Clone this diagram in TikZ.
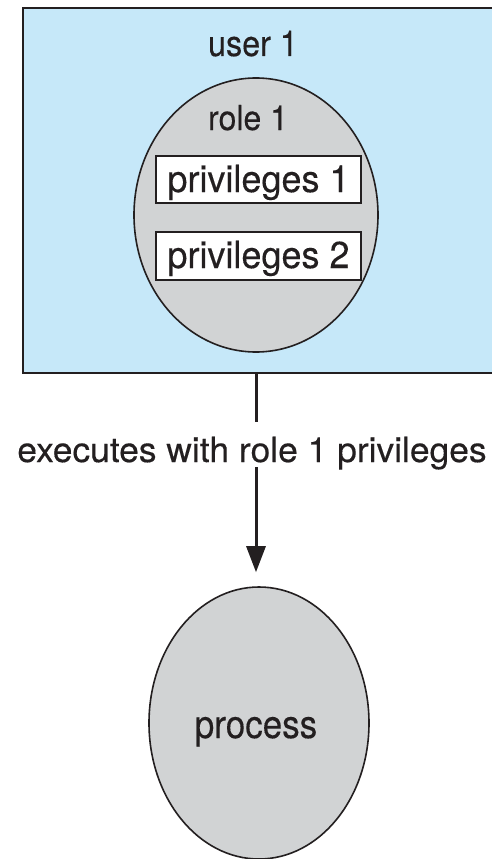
\documentclass[tikz,border=0pt]{standalone}
\usepackage{fontspec}
\setmainfont{TeX Gyre Heros}[FakeBold=0.3]
\usetikzlibrary{shapes.geometric,arrows.meta}
\definecolor{userblue}{RGB}{198,232,249}
\definecolor{rolegray}{RGB}{209,211,212}
\definecolor{ink}{RGB}{35,31,32}
\newcommand{\mylbl}[4]{\scalebox{#2}[#3]{\fontsize{#1}{#1}\selectfont #4}}
\begin{document}
\begin{tikzpicture}[x=1pt,y=-1pt,
  userbox/.style={draw=ink,line width=2.4pt,fill=userblue,rectangle,inner sep=0pt},
  roleshape/.style={draw=ink,line width=1.6pt,fill=rolegray,ellipse,inner sep=0pt},
  privbox/.style={draw=ink,line width=1.5pt,fill=white,rectangle,inner sep=0pt,minimum width=205,minimum height=47},
  txt/.style={anchor=base,inner sep=0pt,text=ink},
  conn/.style={draw=ink,line width=3pt}]
\useasboundingbox (0,0) rectangle (492,859);
\clip (0,0) rectangle (492,859);
\fill[white] (0,0) rectangle (492,859);
% user box
\node[userbox,anchor=north west,minimum width=490,minimum height=365] (user) at (22,7) {};
\node[txt] (usertxt) at (253,56) {\mylbl{32}{1.01}{1.12}{user 1}};
% role ellipse
\node[roleshape,minimum width=244,minimum height=274] (role) at (256,215) {};
\node[txt] (roletxt) at (248,130) {\mylbl{32}{1}{1.08}{role 1}};
\node[privbox] (priv1) at (258.5,179.5) {};
\node[txt] (priv1txt) at (258.5,192) {\mylbl{36}{1}{1.04}{privileges 1}};
\node[privbox,minimum height=48] (priv2) at (258.5,256) {};
\node[txt] (priv2txt) at (258.5,268) {\mylbl{36}{1}{1.04}{privileges 2}};
% label
\node[txt] (exec) at (252,462) {\mylbl{35.4}{1}{0.98}{executes with role 1 privileges}};
% process
\node[roleshape,minimum width=220,minimum height=272] (process) at (259,723) {};
\node[txt] (proctxt) at (256,738) {\mylbl{35}{1}{1.12}{process}};
% connector
\coordinate (g1) at (256,422);
\coordinate (g2) at (256,467);
\draw[conn] (user.south -| g1) -- (g1);
\draw[conn,-{Triangle[length=26pt,width=19pt]},shorten >=14pt] (g2) -- (g2 |- process.north);
\end{tikzpicture}
\end{document}
